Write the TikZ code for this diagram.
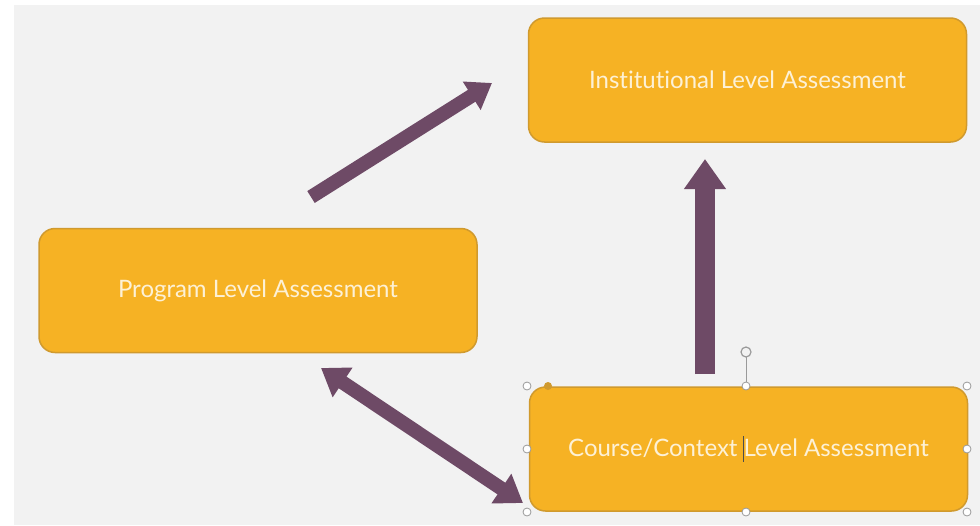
\documentclass[tikz,border=0pt]{standalone}
\usepackage{fontspec}
\setmainfont{Lato}[Ligatures={NoCommon,NoContextual,NoRequired}]
\usetikzlibrary{arrows.meta}
\definecolor{slidebg}{HTML}{F2F2F2}
\definecolor{boxfill}{HTML}{F6B224}
\definecolor{boxline}{HTML}{D09A2E}
\definecolor{boxtext}{HTML}{FDF1D6}
\definecolor{plum}{HTML}{6E4A66}
\definecolor{handle}{HTML}{9A9A9A}
\newcommand{\textcaret}{\makebox[0pt][c]{\color{black!70}\rule[-0.2em]{1.2pt}{1.05em}}}
\tikzset{
  levelbox/.style={draw=boxline, line width=1.5pt, fill=boxfill, rounded corners=16pt,
    minimum width=438pt, minimum height=124pt, inner sep=0pt,
    text=boxtext, font=\fontsize{24}{28}\selectfont},
  flow/.style={draw=plum, line width=14pt,
    -{Triangle[width=32pt,length=24pt]}},
  flowboth/.style={draw=plum, line width=14pt,
    {Triangle[width=34pt,length=26pt]}-{Triangle[width=34pt,length=26pt]}},
  rise/.style={draw=plum, line width=20pt,
    -{Triangle[width=40pt,length=30pt]}},
  grip/.style={circle, draw=handle, fill=white, line width=0.8pt, minimum size=8pt, inner sep=0pt}
}
\begin{document}
\begin{tikzpicture}[x=1pt,y=-1pt]
  \useasboundingbox (0,0) rectangle (980,525);
  \fill[white] (0,0) rectangle (980,525);
  \fill[slidebg] (14,5) rectangle (980,525);

  % the three assessment levels
  \node[levelbox] (inst) at (747.5,80) {Institutional Level Assessment};
  \node[levelbox] (prog) at (258,290.5) {Program Level Assessment};
  \node[levelbox] (course) at (748.5,449) {Course/Context \textcaret Level Assessment};

  % connector end points
  \coordinate (p1) at (311,197);
  \coordinate (p2) at (492,83);
  \coordinate (c1) at (705,374);
  \coordinate (c2) at (705,159);
  \coordinate (d1) at (321,368);
  \coordinate (d2) at (523,503);

  \draw[flow] (p1) -- (p2);
  \draw[rise] (c1) -- (c2);
  \draw[flowboth] (d1) -- (d2);

  % selection frame handles on the course box
  \draw[handle, line width=0.8pt] (746,382) -- (746,357);
  \node[circle, draw=handle, fill=slidebg, line width=1.2pt, minimum size=10pt, inner sep=0pt] (rot) at (746,352) {};
  \foreach \x/\y [count=\i] in {527/386, 746/386, 967/386, 527/449, 967/449, 527/512, 746/512, 967/512}
    \node[grip] (g\i) at (\x,\y) {};
  \node[circle, fill=boxline, minimum size=8pt, inner sep=0pt] (adj) at (548,386) {};
\end{tikzpicture}
\end{document}
